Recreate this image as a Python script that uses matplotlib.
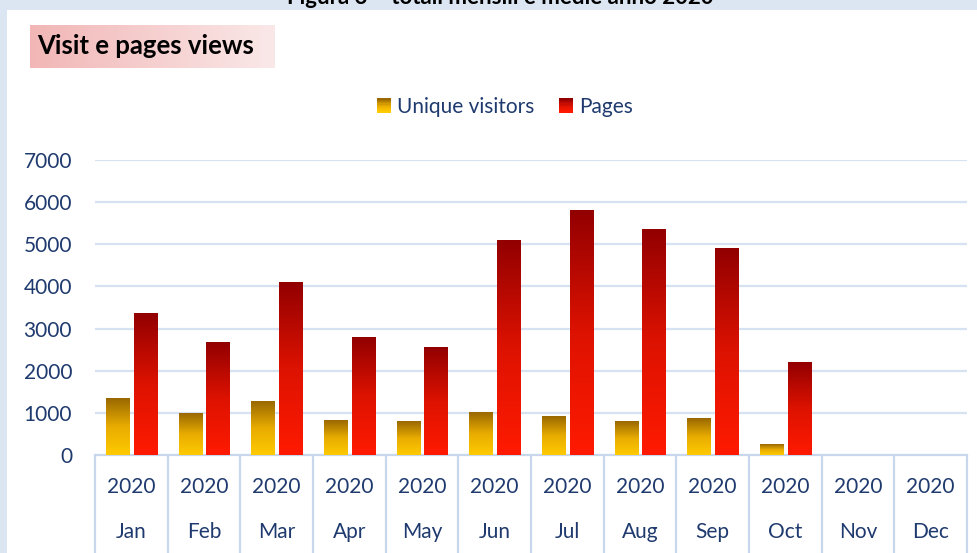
import numpy as np
import matplotlib
matplotlib.use("Agg")
import matplotlib.pyplot as plt
from matplotlib.colors import LinearSegmentedColormap
from matplotlib.legend_handler import HandlerBase
from matplotlib.patches import Rectangle

months = ["Jan", "Feb", "Mar", "Apr", "May", "Jun", "Jul", "Aug", "Sep", "Oct", "Nov", "Dec"]
year_labels = ["2020"] * 12
unique_visitors = [1330, 975, 1260, 830, 805, 1020, 925, 785, 855, 240, 0, 0]
pages = [3350, 2680, 4100, 2800, 2540, 5100, 5790, 5340, 4890, 2185, 0, 0]
yticks = [0, 1000, 2000, 3000, 4000, 5000, 6000, 7000]

TXT = "#1f3a6e"
GRID = "#d6e2f2"
SEP = "#c9d7ec"
FONT = "Lato"

uv_cmap = LinearSegmentedColormap.from_list("uv", ["#ffca00", "#e8ac00", "#996800"])
pg_cmap = LinearSegmentedColormap.from_list("pg", ["#ff1a00", "#dd1200", "#920000"])


class GradHandler(HandlerBase):
    def __init__(self, cmap):
        super().__init__()
        self.cmap = cmap

    def create_artists(self, legend, orig_handle, xdescent, ydescent, width, height, fontsize, trans):
        n = 12
        out = []
        for i in range(n):
            r = Rectangle((-xdescent, -ydescent + i * height / n), width, height / n + 0.2,
                          facecolor=self.cmap(i / (n - 1)), lw=0, transform=trans)
            out.append(r)
        return out


fig = plt.figure(figsize=(9.77, 5.53), dpi=100)
fig.patch.set_facecolor("#dce6f2")
# white panel
fig.patches.append(Rectangle((7 / 977, 0), 1, 1 - 10 / 553, transform=fig.transFigure,
                             facecolor="white", edgecolor="none", zorder=-5))
fig.text(0.512, 1 - 4 / 553, "Figura 3 \u2013 totali mensili e medie anno 2020", ha="center", va="baseline",
         fontsize=16, fontweight="bold", family=FONT, color="black", zorder=-10)

# title box with gradient
tax = fig.add_axes([30 / 977, 1 - 68 / 553, 245 / 977, 43 / 553])
tax.imshow(np.linspace(0, 1, 100).reshape(1, -1), aspect="auto",
           cmap=LinearSegmentedColormap.from_list("t", ["#f2b6b6", "#fae8e8"]), extent=[0, 1, 0, 1])
tax.set_axis_off()
tax.text(0.03, 0.5, "Visit e pages views", transform=tax.transAxes, va="center", ha="left",
         fontsize=18.5, fontweight="bold", family=FONT, color="black")

ax = fig.add_axes([95 / 977, 98 / 553, 872 / 977, 295 / 553])
ax.set_facecolor("none")
x = np.arange(len(months))
w = 0.32
off = 0.19
b1 = ax.bar(x - off, unique_visitors, w, color="none", label="Unique visitors")
b2 = ax.bar(x + off, pages, w, color="none", label="Pages")
grad = np.linspace(0, 1, 256).reshape(-1, 1)
for bars, cmap in [(b1, uv_cmap), (b2, pg_cmap)]:
    for r in bars:
        h = r.get_height()
        if h <= 0:
            continue
        x0 = r.get_x()
        ax.imshow(grad, aspect="auto", cmap=cmap, origin="lower",
                  extent=[x0, x0 + r.get_width(), 0, h], zorder=3)

ax.set_xlim(-0.5, 11.5)
ax.set_ylim(0, 7000)
ax.set_yticks(yticks)
ax.set_yticklabels([str(v) for v in yticks], fontsize=15, color=TXT, family=FONT)
ax.tick_params(axis="y", length=0, pad=16.5)
ax.grid(axis="y", color=GRID, lw=1.6, zorder=0)
ax.set_axisbelow(True)
for s in ["top", "right", "left"]:
    ax.spines[s].set_visible(False)
ax.spines["bottom"].set_color(SEP)
ax.spines["bottom"].set_linewidth(1.6)

ax.set_xticks(np.arange(-0.5, 12, 1))
ax.set_xticklabels([])
ax.tick_params(axis="x", length=75, width=1.6, color=SEP, direction="out")
for i in x:
    ax.annotate(year_labels[i], xy=(i, 0), xycoords=("data", "axes fraction"),
                xytext=(0, -23), textcoords="offset points", ha="center", va="center",
                fontsize=15, color=TXT, family=FONT, annotation_clip=False)
    ax.annotate(months[i], xy=(i, 0), xycoords=("data", "axes fraction"),
                xytext=(0, -55.5), textcoords="offset points", ha="center", va="center",
                fontsize=15, color=TXT, family=FONT, annotation_clip=False)

leg = ax.legend(handles=[b1, b2], labels=["Unique visitors", "Pages"],
                handler_map={b1: GradHandler(uv_cmap), b2: GradHandler(pg_cmap)},
                loc="center", bbox_to_anchor=(505 / 977, 1 - 107 / 553), bbox_transform=fig.transFigure,
                ncol=2, frameon=False, prop={"family": FONT, "size": 15},
                handlelength=0.65, handleheight=0.65, handletextpad=0.3, columnspacing=1.2)
for t in leg.get_texts():
    t.set_color(TXT)

fig.savefig("out.png", dpi=100)
